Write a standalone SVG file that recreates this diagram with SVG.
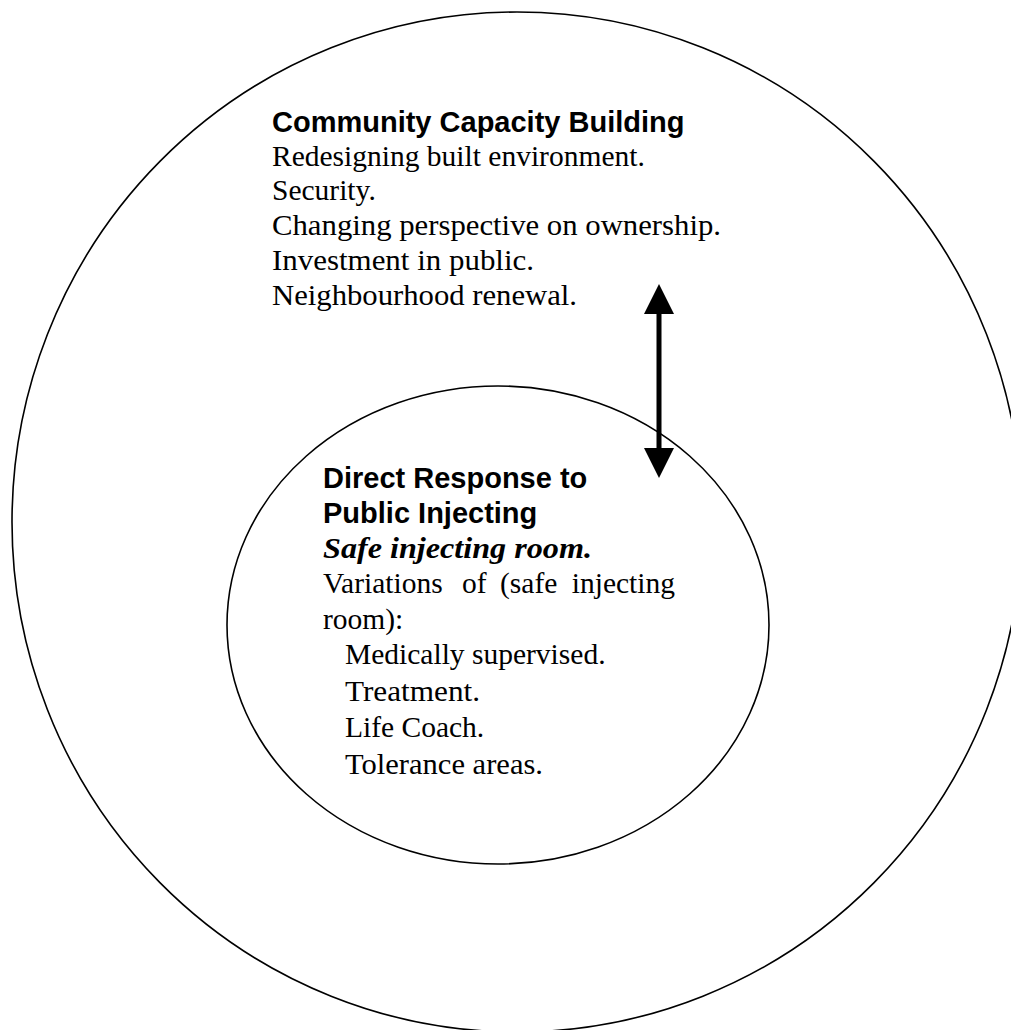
<svg xmlns="http://www.w3.org/2000/svg" width="1011" height="1030" viewBox="0 0 1011 1030">
<defs>
<style>
.ring{fill:none;stroke:#000;stroke-width:1.6}
.head{font-family:"Liberation Sans",Arial,sans-serif;font-weight:bold;font-size:29px;fill:#000}
.body{font-family:"Liberation Serif","Times New Roman",serif;font-size:29.5px;fill:#000}
.bi{font-family:"Liberation Serif","Times New Roman",serif;font-size:29.5px;font-weight:bold;font-style:italic;fill:#000}
.conn{stroke:#000;stroke-width:5;fill:none}
</style>
<marker id="ah" markerUnits="userSpaceOnUse" markerWidth="30" markerHeight="30" viewBox="0 0 30 30" refX="14" refY="15" orient="auto-start-reverse">
<path d="M0,0 L30,15 L0,30 z" fill="#000"/>
</marker>
</defs>
<rect width="1011" height="1030" fill="#fff"/>
<g id="community-capacity-building">
<ellipse class="ring" cx="517" cy="522" rx="505" ry="510"/>
<text class="head" x="272" y="132">Community Capacity Building</text>
<text class="body" x="272" y="166">Redesigning built environment.</text>
<text class="body" x="272" y="200">Security.</text>
<text class="body" x="272" y="235" textLength="449" lengthAdjust="spacingAndGlyphs">Changing perspective on ownership.</text>
<text class="body" x="272" y="270" textLength="262" lengthAdjust="spacingAndGlyphs">Investment in public.</text>
<text class="body" x="272" y="305" textLength="305" lengthAdjust="spacingAndGlyphs">Neighbourhood renewal.</text>
</g>
<g id="direct-response">
<ellipse class="ring" cx="498" cy="625" rx="271" ry="239"/>
<text class="head" x="323" y="488">Direct Response to</text>
<text class="head" x="323" y="523">Public Injecting</text>
<text class="bi" x="323" y="558" textLength="269" lengthAdjust="spacingAndGlyphs">Safe injecting room.</text>
<text class="body" y="593"><tspan x="323">Variations</tspan><tspan x="462">of</tspan><tspan x="500">(safe</tspan><tspan x="675" text-anchor="end">injecting</tspan></text>
<text class="body" x="323" y="629">room):</text>
<text class="body" x="345" y="664">Medically supervised.</text>
<text class="body" x="345" y="701" textLength="135" lengthAdjust="spacingAndGlyphs">Treatment.</text>
<text class="body" x="345" y="737">Life Coach.</text>
<text class="body" x="345" y="774" textLength="198" lengthAdjust="spacingAndGlyphs">Tolerance areas.</text>
</g>
<g id="connectors">
<line class="conn" x1="659" y1="300" x2="659" y2="462" marker-start="url(#ah)" marker-end="url(#ah)"/>
</g>
</svg>
